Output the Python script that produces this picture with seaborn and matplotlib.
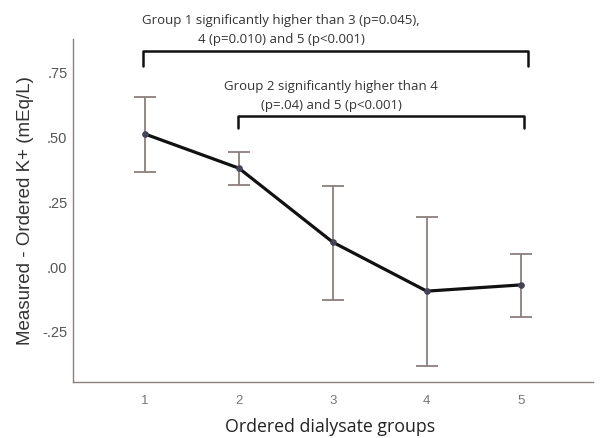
import numpy as np
import pandas as pd
import matplotlib
matplotlib.use("Agg")
import matplotlib.pyplot as plt
import seaborn as sns

# data
groups = [1, 2, 3, 4, 5]
mean_diff = [0.51, 0.378, 0.092, -0.097, -0.073]
ci_upper = [0.652, 0.44, 0.309, 0.189, 0.047]
ci_lower = [0.363, 0.313, -0.131, -0.385, -0.197]
ytick_vals = [-0.25, 0.0, 0.25, 0.5, 0.75]
ytick_labels = ["-.25", ".00", ".25", ".50", ".75"]

df = pd.DataFrame({"group": groups, "diff": mean_diff})

sns.set_theme(style="white")

fig = plt.figure(figsize=(6.01, 4.39), dpi=100)
ax = fig.add_axes([0.1215, 0.1276, 0.8652, 0.7812])

# error bars (brownish gray, like the SPSS output)
err_col = "#8c7f7d"
yerr = [np.array(mean_diff) - np.array(ci_lower), np.array(ci_upper) - np.array(mean_diff)]
ax.errorbar(groups, mean_diff, yerr=yerr, fmt="none", ecolor=err_col,
            elinewidth=1.3, capsize=8, capthick=1.3, zorder=2)

# mean line
sns.lineplot(data=df, x="group", y="diff", ax=ax, color="#111111", linewidth=2.3,
             marker="o", markersize=4, markerfacecolor="#444455",
             markeredgecolor="#444455", zorder=3)

ax.set_xlim(0.234, 5.77)
ax.set_ylim(-0.448, 0.877)
ax.set_xticks(groups)
ax.set_xticklabels([str(g) for g in groups], fontsize=9.5, color="#777777",
                   family="Liberation Sans")
ax.set_yticks(ytick_vals)
ax.set_yticklabels(ytick_labels, fontsize=10.5, color="#555555",
                   family="Liberation Sans")
ax.tick_params(axis="x", length=0, pad=9)
ax.tick_params(axis="y", length=0, pad=4)

ax.set_xlabel("Ordered dialysate groups", fontsize=12.8, color="#222222",
              family="Open Sans", va="center")
ax.xaxis.set_label_coords((330 - 73) / 520, -(427 - 383) / 341)
ax.set_ylabel("Measured - Ordered K+ (mEq/L)", fontsize=13.5, color="#333333",
              family="Liberation Sans", va="center")
ax.yaxis.set_label_coords(-(73 - 25) / 520, (383 - 212) / 341)

for side in ["top", "right"]:
    ax.spines[side].set_visible(False)
for side in ["left", "bottom"]:
    ax.spines[side].set_color("#8c7f7d")
    ax.spines[side].set_linewidth(1.0)

# significance brackets
def bracket(x0, x1, y, drop, text, tx, ty):
    ax.plot([x0, x0, x1, x1], [y - drop, y, y, y - drop], color="#111111",
            linewidth=1.8, clip_on=False, zorder=4)
    ax.text(tx, ty, text, ha="center", va="center",
            fontsize=9.5, color="#333333", family="Open Sans", linespacing=1.6,
            clip_on=False)

bracket(0.98, 5.08, 0.830, 0.058,
        "Group 1 significantly higher than 3 (p=0.045),\n4 (p=0.010) and 5 (p<0.001)",
        2.45, 0.915)
bracket(1.99, 5.04, 0.580, 0.046,
        "Group 2 significantly higher than 4\n(p=.04) and 5 (p<0.001)",
        2.98, 0.662)

plt.savefig("out.png", dpi=100)
